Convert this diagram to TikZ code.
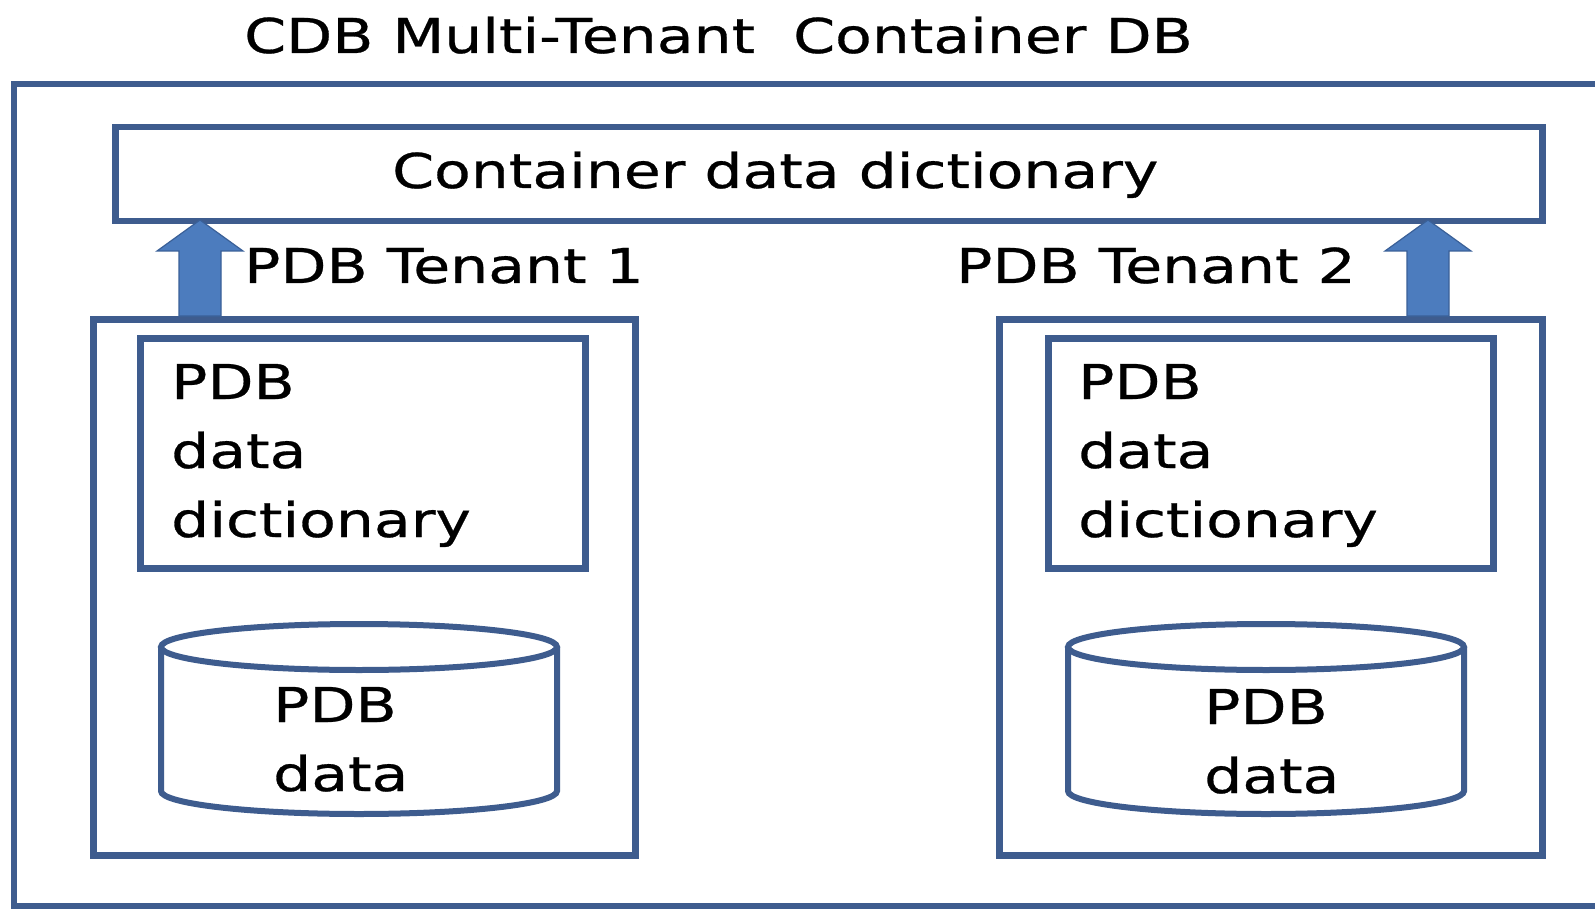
\documentclass[tikz,border=0pt]{standalone}
\usepackage{fontspec}
\setmainfont{DejaVu Sans}[FakeStretch=1.25, FakeBold=0.6]
\usetikzlibrary{calc}
\definecolor{frame}{RGB}{62,92,142}
\definecolor{arrowfill}{RGB}{76,124,190}
\definecolor{arrowedge}{RGB}{58,96,152}
\tikzset{
  box/.style={draw=frame, line width=6.5pt, fill=white, inner sep=0pt, anchor=north west},
  lbl/.style={inner sep=0pt, font=\fontsize{48}{69}\selectfont, text=black},
  blockarrow/.style={fill=arrowfill, draw=arrowedge, line width=1.2pt, line join=miter}
}
\begin{document}
\begin{tikzpicture}[x=1pt,y=-1pt]
\useasboundingbox (0,0) rectangle (1595,909);
\clip (0,0) rectangle (1595,909);
\fill[white] (0,0) rectangle (1595,909);

% title
\node[lbl, anchor=base west] (title) at (244,53) {CDB Multi-Tenant\ \ Container DB};

% outer container frame (runs off the right and bottom edges)
\draw[frame, line width=6pt] (1610,84) -- (14,84) -- (14,906) -- (1610,906);

% container data dictionary
\node[box, minimum width=1427pt, minimum height=94pt] (cdd) at (112,124) {};
\node[lbl, anchor=base west] (cddtext) at (392,188) {Container data dictionary};

% tenants
\node[box, minimum width=542pt, minimum height=536pt] (t1) at (90,316) {};
\node[box, minimum width=543pt, minimum height=536pt] (t2) at (996,316) {};
\node[lbl, anchor=base west] (t1label) at (244,283) {PDB Tenant 1};
\node[lbl, anchor=base west] (t2label) at (956,283) {PDB Tenant 2};

% PDB data dictionaries
\node[box, minimum width=445pt, minimum height=230pt] (d1) at (137,335) {};
\node[box, minimum width=445pt, minimum height=230pt] (d2) at (1045,335) {};
\node[lbl, anchor=base west, align=left] (d1text) at (171,537) {PDB\\data\\dictionary};
\node[lbl, anchor=base west, align=left] (d2text) at (1078,537) {PDB\\data\\dictionary};

% PDB data cylinders
\foreach \cx/\nm in {359/c1, 1266/c2}{
  \coordinate (\nm) at (\cx,719);
  \draw[frame, line width=6pt, fill=white]
    ($(\nm)+(-198,-72)$) -- ($(\nm)+(-198,72)$)
    arc[start angle=180, end angle=360, x radius=198pt, y radius=23pt]
    -- ($(\nm)+(198,-72)$);
  \draw[frame, line width=6pt] ($(\nm)+(0,-72)$) ellipse[x radius=198pt, y radius=23pt];
}
\node[lbl, anchor=base west, align=left] (c1text) at (273,791) {PDB\\data};
\node[lbl, anchor=base west, align=left] (c2text) at (1204,793) {PDB\\data};

% block arrows from tenants up to the container dictionary
\foreach \ax/\src in {200/t1, 1428/t2}{
  \coordinate (base\src) at (\ax,316);
  \coordinate (tip\src) at (\ax,220);
  \draw[blockarrow]
    ($(base\src)+(-21,0)$) -- ($(base\src)+(-21,-65)$) -- ($(base\src)+(-43,-65)$)
    -- (tip\src) -- ($(base\src)+(43,-65)$) -- ($(base\src)+(21,-65)$)
    -- ($(base\src)+(21,0)$) -- cycle;
}
\end{tikzpicture}
\end{document}
